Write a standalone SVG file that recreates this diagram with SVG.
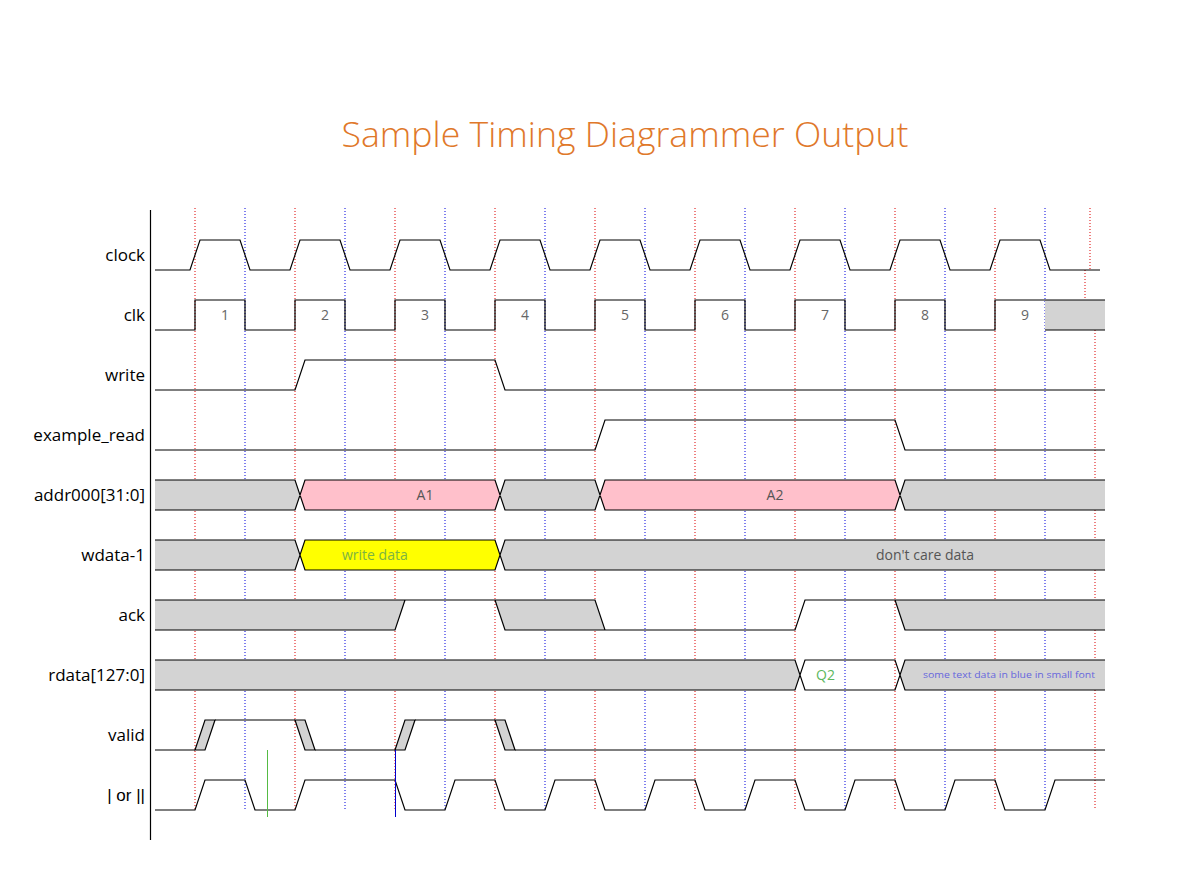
<svg xmlns="http://www.w3.org/2000/svg" width="1182" height="892" viewBox="0 0 1182 892">
<style>
.grid-r{stroke:#dd0000;stroke-width:1;stroke-dasharray:1,2;fill:none}
.grid-b{stroke:#0000dd;stroke-width:1;stroke-dasharray:1,2;fill:none}
.w{stroke:#000;stroke-width:1.2;fill:none}
.x{fill:#d3d3d3;stroke:none}
.xs{fill:#d3d3d3;stroke:#000;stroke-width:1.2}
.lbl{font-family:"Open Sans","DejaVu Sans",sans-serif;font-size:17px;fill:#000;text-anchor:end}
.val{font-family:"Open Sans","DejaVu Sans",sans-serif;font-size:14px;fill:#555}
.num{fill:#666}
.grn1{fill:#7cb342}
.grn2{fill:#5cb85c}
</style>
<rect width="1182" height="892" fill="#fff"/>
<text x="625" y="147" text-anchor="middle" font-family="'Open Sans','DejaVu Sans',sans-serif" font-weight="300" font-size="34" fill="#e0782a" textLength="567" lengthAdjust="spacingAndGlyphs">Sample Timing Diagrammer Output</text>

<g id="grid">
<path class="grid-r" d="M195,208V810M295,208V810M395,208V810M495,208V810M595,208V810M695,208V810M795,208V810M895,208V810M995,208V810M1090,208V270M1085,270V330M1095,330V810"/>
<path class="grid-b" d="M245,208V810M345,208V810M445,208V810M545,208V810M645,208V810M745,208V810M845,208V810M945,208V810M1045,208V810"/>
</g>

<line id="axis" x1="150.5" y1="210" x2="150.5" y2="840" stroke="#000" stroke-width="1.2"/>

<g id="labels">
<text class="lbl" x="145" y="261">clock</text>
<text class="lbl" x="145" y="321">clk</text>
<text class="lbl" x="145" y="381">write</text>
<text class="lbl" x="145" y="441">example_read</text>
<text class="lbl" x="145" y="501">addr000[31:0]</text>
<text class="lbl" x="145" y="561">wdata-1</text>
<text class="lbl" x="145" y="621">ack</text>
<text class="lbl" x="145" y="681">rdata[127:0]</text>
<text class="lbl" x="145" y="741">valid</text>
<text class="lbl" x="145" y="801" style="font-family:'Liberation Sans',sans-serif">| or ||</text>
</g>

<g id="sig-clock">
<path class="w" d="M155,270H190L200,240H240L250,270H290L300,240H340L350,270H390L400,240H440L450,270H490L500,240H540L550,270H590L600,240H640L650,270H690L700,240H740L750,270H790L800,240H840L850,270H890L900,240H940L950,270H990L1000,240H1040L1050,270H1100"/>
</g>

<g id="sig-clk">
<rect class="x" x="1045" y="300" width="60" height="30"/>
<path class="w" d="M155,330H195V300H245V330H295V300H345V330H395V300H445V330H495V300H545V330H595V300H645V330H695V300H745V330H795V300H845V330H895V300H945V330H995V300H1105M1045,330H1105"/>
<g class="val" text-anchor="middle">
<text class="num" x="225" y="320">1</text>
<text class="num" x="325" y="320">2</text>
<text class="num" x="425" y="320">3</text>
<text class="num" x="525" y="320">4</text>
<text class="num" x="625" y="320">5</text>
<text class="num" x="725" y="320">6</text>
<text class="num" x="825" y="320">7</text>
<text class="num" x="925" y="320">8</text>
<text class="num" x="1025" y="320">9</text>
</g>
</g>

<g id="sig-write">
<path class="w" d="M155,390H295L305,360H495L505,390H1105"/>
</g>

<g id="sig-example_read">
<path class="w" d="M155,450H595L605,420H895L905,450H1105"/>
</g>

<g id="sig-addr">
<polygon class="x" points="155,480 295,480 300,495 295,510 155,510"/>
<polygon fill="#ffc0cb" points="300,495 305,480 495,480 500,495 495,510 305,510"/>
<polygon class="x" points="500,495 505,480 595,480 600,495 595,510 505,510"/>
<polygon fill="#ffc0cb" points="600,495 605,480 895,480 900,495 895,510 605,510"/>
<polygon class="x" points="900,495 905,480 1105,480 1105,510 905,510"/>
<path class="w" d="M155,480H295L305,510H495L505,480H595L605,510H895L905,480H1105M155,510H295L305,480H495L505,510H595L605,480H895L905,510H1105"/>
<text class="val" x="425" y="500" text-anchor="middle">A1</text>
<text class="val" x="775" y="500" text-anchor="middle">A2</text>
</g>

<g id="sig-wdata">
<polygon class="x" points="155,540 295,540 300,555 295,570 155,570"/>
<polygon fill="#ffff00" points="300,555 305,540 495,540 500,555 495,570 305,570"/>
<polygon class="x" points="500,555 505,540 1105,540 1105,570 505,570"/>
<path class="w" d="M155,540H295L305,570H495L505,540H1105M155,570H295L305,540H495L505,570H1105"/>
<text class="val grn1" x="342" y="560">write data</text>
<text class="val" x="925" y="560" text-anchor="middle">don't care data</text>
</g>

<g id="sig-ack">
<polygon class="x" points="155,600 405,600 395,630 155,630"/>
<polygon class="x" points="495,600 595,600 605,630 505,630"/>
<polygon class="x" points="895,600 1105,600 1105,630 905,630"/>
<path class="w" d="M155,600H595L605,630H795L805,600H1105M155,630H395L405,600M495,600L505,630H605M895,600L905,630H1105"/>
</g>

<g id="sig-rdata">
<polygon class="x" points="155,660 795,660 800,675 795,690 155,690"/>
<polygon class="x" points="900,675 905,660 1105,660 1105,690 905,690"/>
<path class="w" d="M155,660H795L805,690H895L905,660H1105M155,690H795L805,660H895L905,690H1105"/>
<text class="val grn2" x="816" y="680">Q2</text>
<text x="923" y="678" font-family="'Open Sans','DejaVu Sans',sans-serif" font-size="9.5" fill="#6666dd" textLength="172" lengthAdjust="spacingAndGlyphs">some text data in blue in small font</text>
</g>

<g id="sig-valid">
<polygon class="xs" points="195,750 205,720 215,720 205,750"/>
<polygon class="xs" points="295,720 305,720 315,750 305,750"/>
<polygon class="xs" points="395,750 405,720 415,720 405,750"/>
<polygon class="xs" points="495,720 505,720 515,750 505,750"/>
<path class="w" d="M155,750H195M215,720H295M315,750H395M415,720H495M515,750H1105"/>
</g>

<g id="sig-or">
<path class="w" d="M155,810H195L205,780H245L255,810H295L305,780H395L405,810H445L455,780H495L505,810H545L555,780H595L605,810H645L655,780H695L705,810H745L755,780H795L805,810H845L855,780H895L905,810H945L955,780H995L1005,810H1045L1055,780H1105"/>
<line x1="267.5" y1="750" x2="267.5" y2="817" stroke="#55bb44" stroke-width="1"/>
<line x1="395.5" y1="750" x2="395.5" y2="817" stroke="#0000cc" stroke-width="1"/>
</g>
</svg>
